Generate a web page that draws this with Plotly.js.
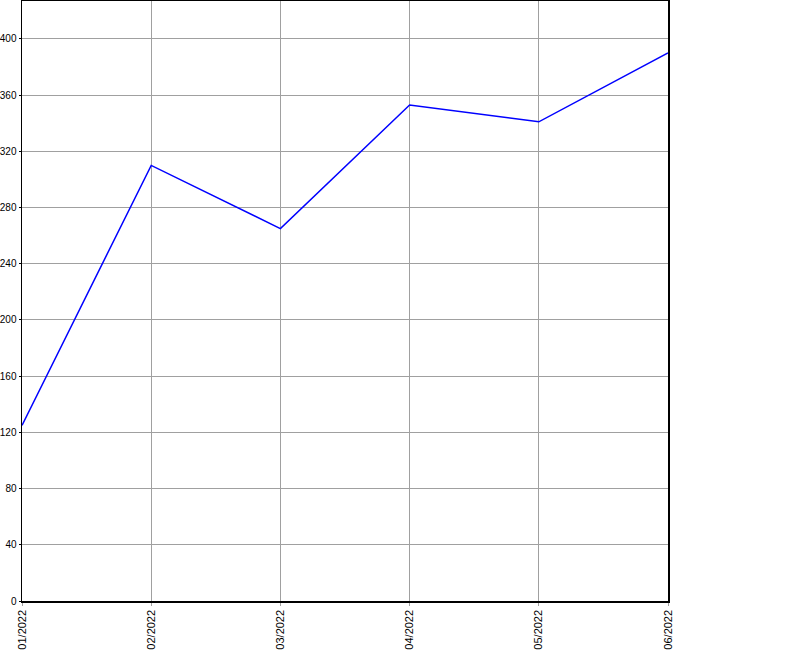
<!DOCTYPE html>
<html>
<head>
<meta charset="utf-8">
<script src="https://cdn.plot.ly/plotly-3.0.1.min.js"></script>
<style>html,body{margin:0;padding:0;background:#fff;}#chart{width:800px;height:650px;}</style>
</head>
<body>
<div id="chart"></div>
<script>
const months = ["01/2022", "02/2022", "03/2022", "04/2022", "05/2022", "06/2022"];
const values = [125, 310, 265, 353, 341, 390];

const trace = {
  x: months,
  y: values,
  type: "scatter",
  mode: "lines",
  line: {color: "#0000ff", width: 1.5},
  hoverinfo: "skip"
};

const layout = {
  width: 800,
  height: 650,
  margin: {l: 22, r: 132, t: 1, b: 49, pad: 0},
  paper_bgcolor: "#ffffff",
  plot_bgcolor: "#ffffff",
  showlegend: false,
  font: {family: "Liberation Sans, Arial, sans-serif", size: 11, color: "#000"},
  xaxis: {
    type: "category",
    range: [0, 5],
    tickangle: -90,
    showgrid: true,
    gridcolor: "#a0a0a0",
    gridwidth: 1,
    showline: true,
    linecolor: "#000",
    linewidth: 1.5,
    mirror: true,
    ticks: "outside",
    ticklen: 3,
    tickcolor: "#a0a0a0",
    zeroline: false,
    tickfont: {size: 11}
  },
  yaxis: {
    range: [0, 427],
    dtick: 40,
    tick0: 0,
    showgrid: true,
    gridcolor: "#a0a0a0",
    gridwidth: 1,
    showline: true,
    linecolor: "#000",
    linewidth: 1.5,
    mirror: true,
    ticks: "outside",
    ticklen: 2,
    tickcolor: "#000",
    zeroline: false,
    tickfont: {size: 10}
  }
};

Plotly.newPlot("chart", [trace], layout, {staticPlot: true, displayModeBar: false});
</script>
</body>
</html>
